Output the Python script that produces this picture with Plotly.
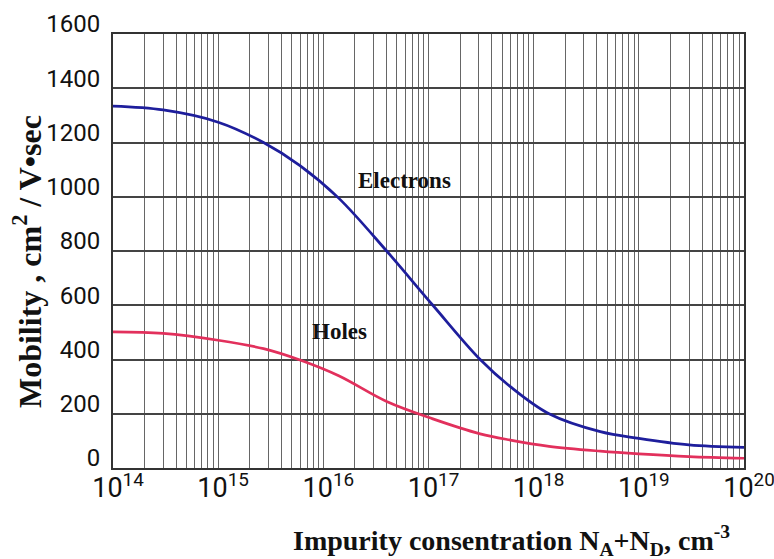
import numpy as np
import plotly.graph_objects as go

# Impurity concentration (cm^-3)
concentration = [1e14, 3e14, 1e15, 2.7e15, 6e15, 1.4e16, 4e16, 1.1e17, 3.1e17,
                 6e17, 1.4e18, 4.3e18, 1e19, 3e19, 1e20]
# Mobility, cm^2 / V*sec
electrons = [1334, 1320, 1275, 1200, 1115, 995, 800, 600, 400,
             300, 200, 134, 109, 85, 76]
holes = [502, 496, 471, 440, 398, 340, 245, 181, 126,
         103, 80, 62, 52, 42, 36]

x_tickvals = [1e14, 1e15, 1e16, 1e17, 1e18, 1e19, 1e20]
x_ticktext = ["10<sup>14</sup>", "10<sup>15</sup>", "10<sup>16</sup>", "10<sup>17</sup>",
              "10<sup>18</sup>", "10<sup>19</sup>", "10<sup>20</sup>"]
y_tickvals = [0, 200, 400, 600, 800, 1000, 1200, 1400, 1600]
y_ticktext = [str(v) for v in y_tickvals]

BLUE = "#1e1e9c"
RED = "#e2305c"
GRID = "#666666"
TICKFONT = "Liberation Sans Narrow, Roboto, sans-serif"
SERIF = "Liberation Serif, Times New Roman, serif"

fig = go.Figure()
fig.add_trace(go.Scatter(x=concentration, y=electrons, mode="lines", name="Electrons",
                         line=dict(color=BLUE, width=2.7, shape="spline", smoothing=1.0),
                         hoverinfo="skip"))
fig.add_trace(go.Scatter(x=concentration, y=holes, mode="lines", name="Holes",
                         line=dict(color=RED, width=2.7, shape="spline", smoothing=1.0),
                         hoverinfo="skip"))

# white label boxes that hide the grid
fig.add_shape(type="rect", xref="x", yref="y", x0=15.996, x1=17.555, y0=1005, y1=1180,
              fillcolor="white", line=dict(width=0), layer="between")
fig.add_shape(type="rect", xref="x", yref="y", x0=15.511, x1=16.871, y0=442, y1=593,
              fillcolor="white", line=dict(width=0), layer="between")

fig.add_annotation(x=16.776, y=1061, xref="x", yref="y", text="<b>Electrons</b>",
                   showarrow=False, font=dict(family=SERIF, size=23, color="#111"))
fig.add_annotation(x=16.158, y=505, xref="x", yref="y", text="<b>Holes</b>",
                   showarrow=False, font=dict(family=SERIF, size=23, color="#111"))

# axis titles
fig.add_annotation(x=0.632, y=-0.168, xref="paper", yref="paper",
                   text="<b>Impurity consentration N<sub>A</sub>+N<sub>D</sub>, cm<sup>-3</sup></b>",
                   showarrow=False, xanchor="center", yanchor="middle",
                   font=dict(family=SERIF, size=28, color="#111"))
fig.add_annotation(x=-0.136, y=0.475, xref="paper", yref="paper",
                   text="<b>Mobility , cm<sup>2</sup> / V•sec</b>", textangle=-90,
                   showarrow=False, xanchor="center", yanchor="middle",
                   font=dict(family=SERIF, size=32, color="#111"))

fig.update_xaxes(type="log", range=[14, 20], automargin=False,
                 tickmode="array", tickvals=x_tickvals, ticktext=x_ticktext,
                 tickfont=dict(family=TICKFONT, size=27, color="#111"),
                 ticklabelshift=5, ticklabelstandoff=-5, ticklabeloverflow="allow",
                 ticks="", ticklen=0,
                 showgrid=True, gridcolor=GRID, gridwidth=1.3,
                 minor=dict(dtick="D1", showgrid=True, gridcolor=GRID, gridwidth=1.2, ticks=""),
                 showline=True, mirror=True, linecolor="#333", linewidth=2,
                 zeroline=False)
fig.update_yaxes(range=[0, 1600], automargin=False,
                 tickmode="array", tickvals=y_tickvals, ticktext=y_ticktext,
                 tickfont=dict(family=TICKFONT, size=24, color="#111"),
                 ticklabelshift=-10, ticklabelstandoff=6, ticklabeloverflow="allow",
                 ticks="", ticklen=0,
                 showgrid=True, gridcolor="#444", gridwidth=1.5,
                 showline=True, mirror=True, linecolor="#333", linewidth=2,
                 zeroline=False)

fig.update_layout(width=774, height=559, showlegend=False,
                  margin=dict(l=113, r=30, t=34, b=91),
                  paper_bgcolor="white", plot_bgcolor="white")

fig.write_html("out.html", config={"displayModeBar": False},
               post_script="document.body.style.margin='0px';")
